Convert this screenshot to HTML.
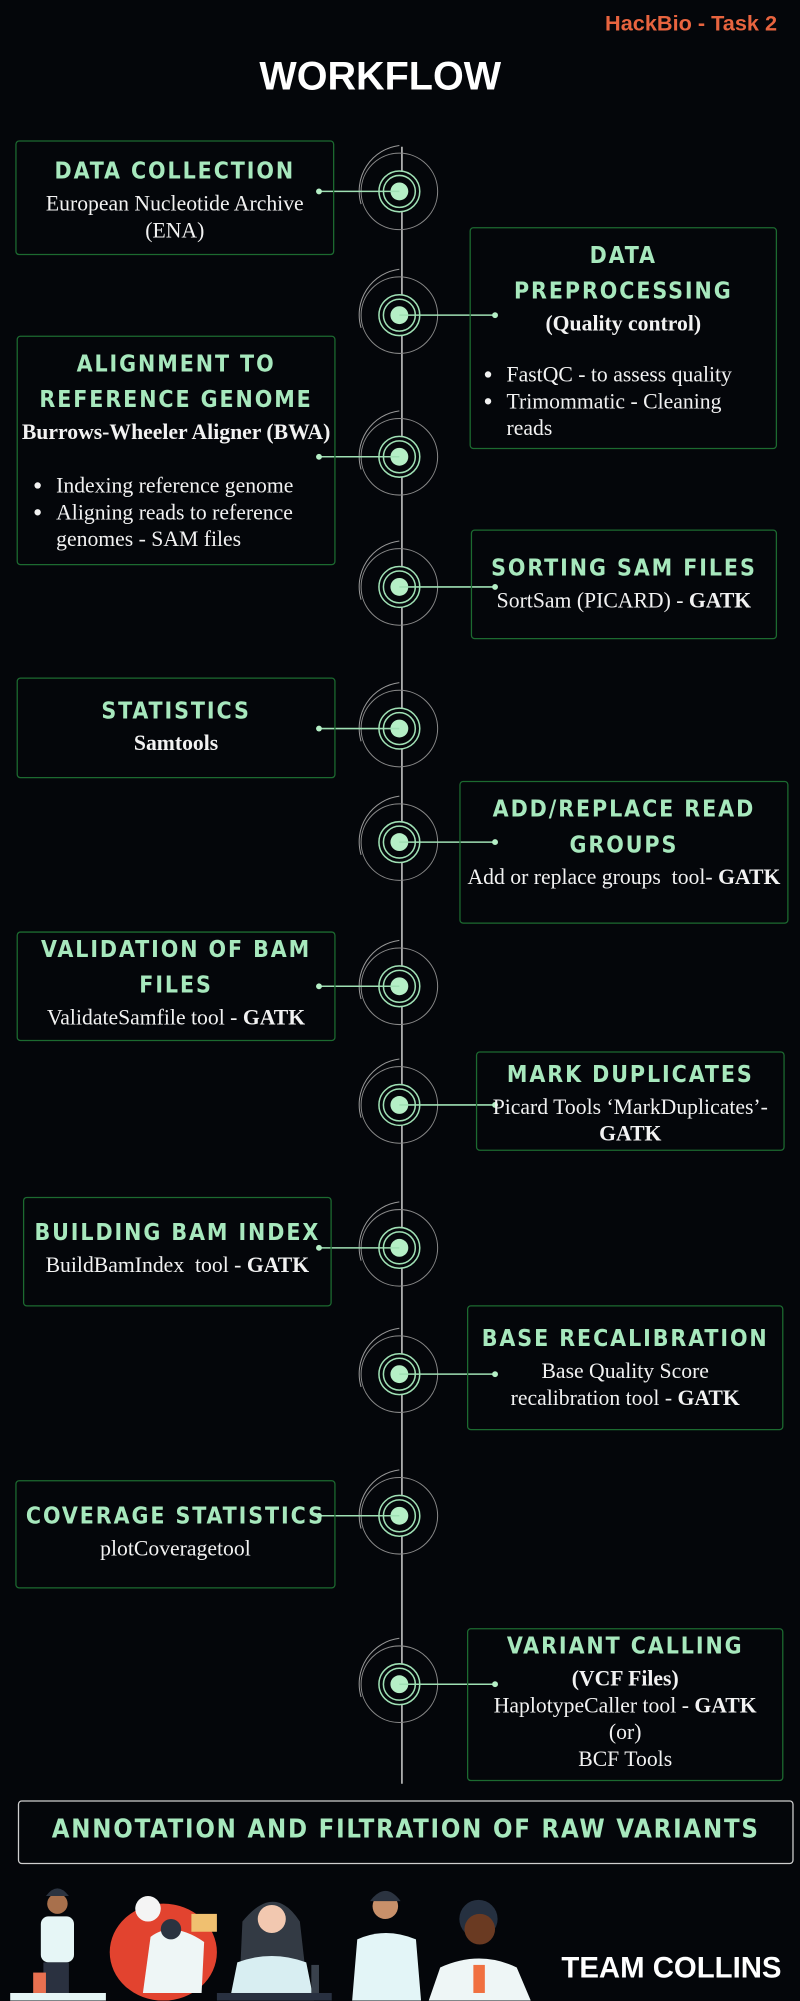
<!DOCTYPE html>
<html><head><meta charset="utf-8">
<style>
html,body{margin:0;padding:0;background:#04060a;}
body{width:800px;height:2000px;overflow:hidden;position:relative;}
#wrap{position:absolute;left:0;top:0;width:627px;height:1568px;transform:scale(1.27592);transform-origin:0 0;}
.box{position:absolute;border:1px solid #1c6a30;border-radius:3px;box-sizing:border-box;text-align:center;color:#f2f2f2;font-family:"Liberation Serif",serif;font-size:17px;line-height:21px;}
.h{font-family:"DejaVu Sans Condensed","DejaVu Sans",sans-serif;font-stretch:condensed;font-weight:bold;color:#a7e8bd;font-size:18px;letter-spacing:1.5px;line-height:28px;white-space:nowrap;}
.box b{font-weight:bold;}
ul{margin:8px 0 0 0;padding-left:30px;text-align:left;}
li{margin:0;}
.abs{position:absolute;}
</style></head>
<body>
<div id="wrap">
<div class="abs" style="right:18px;top:9px;color:#e8643f;font-family:'Liberation Sans',sans-serif;font-weight:bold;font-size:17px;">HackBio - Task 2</div>
<div class="abs" style="left:0;width:596px;text-align:center;top:42px;color:#fff;font-family:'Liberation Sans',sans-serif;font-weight:bold;font-size:31px;">WORKFLOW</div>

<svg class="abs" style="left:0;top:0" width="627" height="1568">
<line x1="315" y1="115" x2="315" y2="1398" stroke="#bbb" stroke-width="1.3"/>
<g id="nodes"></g>
</svg>

<div class="box" style="left:12px;top:110px;width:250px;height:90px;padding-top:10px;"><div class="h">DATA COLLECTION</div>European Nucleotide Archive<br>(ENA)</div>

<div class="box" style="left:368px;top:178px;width:241px;height:174px;padding-top:8px;"><div class="h">DATA<br>PREPROCESSING</div><b>(Quality control)</b><ul style="margin-top:19px;padding-left:28px"><li>FastQC - to assess quality</li><li>Trimommatic - Cleaning<br>reads</li></ul></div>

<div class="box" style="left:13px;top:263px;width:250px;height:180px;padding-top:8px;"><div class="h">ALIGNMENT TO<br>REFERENCE GENOME</div><b style="white-space:nowrap;display:block;margin-left:-10px;margin-right:-10px">Burrows-Wheeler Aligner (BWA)</b><ul style="margin-top:21px;padding-left:30px"><li>Indexing reference genome</li><li>Aligning reads to reference genomes - SAM files</li></ul></div>

<div class="box" style="left:369px;top:415px;width:240px;height:86px;padding-top:16px;"><div class="h">SORTING SAM FILES</div>SortSam (PICARD) - <b>GATK</b></div>

<div class="box" style="left:13px;top:531px;width:250px;height:79px;padding-top:12px;"><div class="h">STATISTICS</div><b>Samtools</b></div>

<div class="box" style="left:360px;top:612px;width:258px;height:112px;padding-top:8px;"><div class="h">ADD/REPLACE READ<br>GROUPS</div><span style="white-space:nowrap">Add or replace groups &nbsp;tool- <b>GATK</b></span></div>

<div class="box" style="left:13px;top:730px;width:250px;height:86px;padding-top:0px;"><div class="h">VALIDATION OF BAM<br>FILES</div>ValidateSamfile tool - <b>GATK</b></div>

<div class="box" style="left:373px;top:824px;width:242px;height:78px;padding-top:4px;"><div class="h">MARK DUPLICATES</div><span style="white-space:nowrap;display:block;margin:0 -10px">Picard Tools ‘MarkDuplicates’-</span><b>GATK</b></div>

<div class="box" style="left:18px;top:938px;width:242px;height:86px;padding-top:14px;"><div class="h">BUILDING BAM INDEX</div>BuildBamIndex &nbsp;tool - <b>GATK</b></div>

<div class="box" style="left:366px;top:1023px;width:248px;height:98px;padding-top:12px;"><div class="h">BASE RECALIBRATION</div>Base Quality Score<br>recalibration tool - <b>GATK</b></div>

<div class="box" style="left:12px;top:1160px;width:251px;height:85px;padding-top:14px;"><div class="h">COVERAGE STATISTICS</div>plotCoveragetool</div>

<div class="box" style="left:366px;top:1276px;width:248px;height:120px;padding-top:0px;"><div class="h">VARIANT CALLING</div><b>(VCF Files)</b><br>HaplotypeCaller tool - <b>GATK</b><br>(or)<br>BCF Tools</div>

<div class="abs" style="left:14px;top:1411px;width:608px;height:50px;border:1px solid #cfcfcf;border-radius:3px;box-sizing:border-box;text-align:center;line-height:48px;"><span class="h" style="font-size:20px;letter-spacing:1.4px;">ANNOTATION AND FILTRATION OF RAW VARIANTS</span></div>

<svg class="abs" style="left:0;top:1470px" width="627" height="98">
<g><circle cx="45" cy="22" r="8" fill="#a8704c"/><path d="M36 16 Q45 4 54 16" fill="#2b3340"/><rect x="32" y="32" width="26" height="36" rx="6" fill="#e6f6f6"/><rect x="34" y="68" width="20" height="26" fill="#2a3140"/><rect x="8" y="92" width="75" height="6" fill="#e6f6f6"/><rect x="26" y="76" width="10" height="16" fill="#e87050"/></g>
<g><ellipse cx="128" cy="60" rx="42" ry="38" fill="#e2432f"/><circle cx="116" cy="26" r="10" fill="#f4f4f4"/><path d="M118 48 Q135 35 160 52 L158 92 L112 92 Z" fill="#eef6f6"/><circle cx="134" cy="42" r="8" fill="#2b3340"/><rect x="150" y="30" width="20" height="14" fill="#f0c070"/></g>
<g><path d="M190 36 Q215 5 235 36 L240 80 L188 80 Z" fill="#333a44"/><circle cx="213" cy="34" r="11" fill="#f2c8b0"/><path d="M186 68 Q213 58 240 68 L246 98 L180 98 Z" fill="#d8eef2"/><rect x="170" y="92" width="90" height="6" fill="#283040"/><rect x="244" y="70" width="6" height="22" fill="#39414c"/></g>
<g><circle cx="302" cy="24" r="10" fill="#c8906a"/><path d="M290 20 Q302 4 314 20" fill="#2b3340"/><path d="M280 50 Q302 40 326 50 L330 98 L276 98 Z" fill="#e3f5f7"/></g>
<g><circle cx="375" cy="34" r="15" fill="#253040"/><circle cx="376" cy="42" r="12" fill="#6a3a22"/><path d="M345 72 Q376 58 405 72 L416 98 L336 98 Z" fill="#eef6f6"/><rect x="371" y="70" width="9" height="22" fill="#f07040"/></g>
</svg>
<div class="abs" style="left:440px;top:1529px;color:#fff;font-family:'Liberation Sans',sans-serif;font-weight:bold;font-size:23px;">TEAM COLLINS</div>
</div>
<script>
var nodeY=[150,247,358,460,571,660,773,866,978,1077,1188,1320];
var nodeSide=['L','R','L','R','L','R','L','R','L','R','L','R'];
var g=document.getElementById('nodes');var ns='http://www.w3.org/2000/svg';
function mk(t,a){var e=document.createElementNS(ns,t);for(var k in a)e.setAttribute(k,a[k]);g.appendChild(e);return e;}
nodeY.forEach(function(y,i){
  var cx=313;
  var arc=mk('path',{d:'M'+(cx)+' '+(y-36)+' A36 36 0 0 0 '+(cx-30)+' '+(y+10),fill:'none',stroke:'#999','stroke-width':0.8});
  
  
  var o=mk('circle',{cx:cx,cy:y,r:30,fill:'none',stroke:'#888','stroke-width':0.8});
  
  
  mk('circle',{cx:cx,cy:y,r:16,fill:'#04060a',stroke:'#9fe0b4','stroke-width':1.2});
  mk('circle',{cx:cx,cy:y,r:12.5,fill:'none',stroke:'#9fe0b4','stroke-width':1.2});
  var d=mk('circle',{cx:cx,cy:y,r:7,fill:'#b5efc6'});
  
  
  var x2=nodeSide[i]=='L'?250:388;
  var l=mk('line',{x1:cx,y1:y,x2:x2,y2:y,stroke:'#9fe0b4','stroke-width':1.2});
  
  
  mk('circle',{cx:x2,cy:y,r:2.3,fill:'#b5efc6'});
});
</script>
</body></html>
